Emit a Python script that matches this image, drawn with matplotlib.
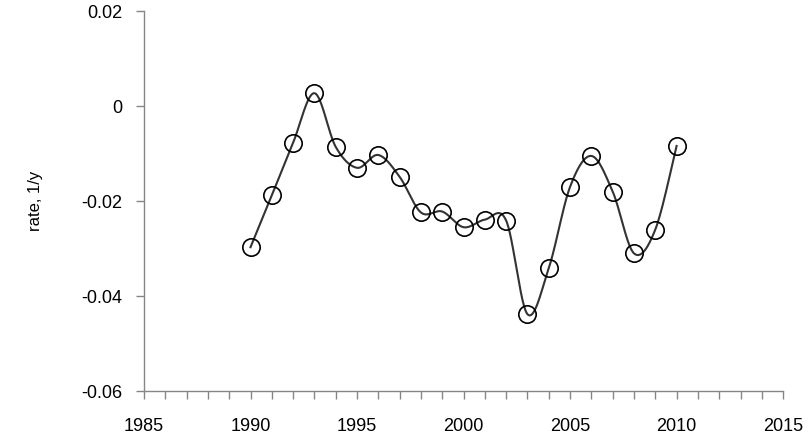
import numpy as np
import matplotlib.pyplot as plt

years = list(range(1990, 2011))
rates = [-0.0297, -0.0188, -0.0077, 0.0027, -0.0086, -0.0130, -0.0103, -0.0149,
         -0.0224, -0.0222, -0.0255, -0.0239, -0.0241, -0.0438, -0.0341, -0.0170,
         -0.0105, -0.0180, -0.0310, -0.0260, -0.0084]
y_ticks = [-0.06, -0.04, -0.02, 0, 0.02]
y_labels = ['-0.06', '-0.04', '-0.02', '0', '0.02']
x_ticks = [1985, 1990, 1995, 2000, 2005, 2010, 2015]


def smooth_curve(x, y, n=30):
    # Excel-style smoothed line: cubic Bezier segments with Catmull-Rom control points
    x = np.asarray(x, float)
    y = np.asarray(y, float)
    px = np.concatenate([[x[0]], x, [x[-1]]])
    py = np.concatenate([[y[0]], y, [y[-1]]])
    t = np.linspace(0, 1, n)[:, None]
    xs, ys = [], []
    for i in range(1, len(px) - 2):
        p0 = np.array([px[i], py[i]])
        p3 = np.array([px[i + 1], py[i + 1]])
        c1 = p0 + (p3 - np.array([px[i - 1], py[i - 1]])) / 6
        c2 = p3 - (np.array([px[i + 2], py[i + 2]]) - p0) / 6
        b = ((1 - t) ** 3) * p0 + 3 * ((1 - t) ** 2) * t * c1 + 3 * (1 - t) * t ** 2 * c2 + t ** 3 * p3
        xs.append(b[:, 0])
        ys.append(b[:, 1])
    return np.concatenate(xs), np.concatenate(ys)


plt.rcParams['font.family'] = ['Liberation Sans', 'DejaVu Sans']

fig = plt.figure(figsize=(8.09, 4.40), dpi=100)
ax = fig.add_axes([0.178, 0.111, 0.79, 0.864])

sx, sy = smooth_curve(years, rates)
ax.plot(sx, sy, color='#333333', lw=1.5, zorder=2)
ax.plot(years, rates, linestyle='none', marker='o', markersize=12.5,
        markerfacecolor='none', markeredgecolor='black', markeredgewidth=1.2, zorder=3)

ax.set_xlim(1985, 2015)
ax.set_ylim(-0.06, 0.02)
ax.set_xticks(x_ticks)
ax.set_xticks(range(1985, 2016), minor=True)
ax.set_yticks(y_ticks)
ax.set_yticklabels(y_labels)

for side in ['top', 'right']:
    ax.spines[side].set_visible(False)
for side in ['left', 'bottom']:
    ax.spines[side].set_color('#868686')
    ax.spines[side].set_linewidth(1.0)

ax.tick_params(axis='x', which='both', direction='out', length=6, width=1.0,
               color='#868686', labelsize=13, pad=13)
ax.tick_params(axis='y', which='major', direction='out', length=6, width=1.0,
               color='#868686', labelsize=13, pad=9.5)
ax.set_ylabel('rate, 1/y', fontsize=12)
ax.yaxis.set_label_coords(-0.158, 0.5)

fig.savefig('out.png', dpi=100)
